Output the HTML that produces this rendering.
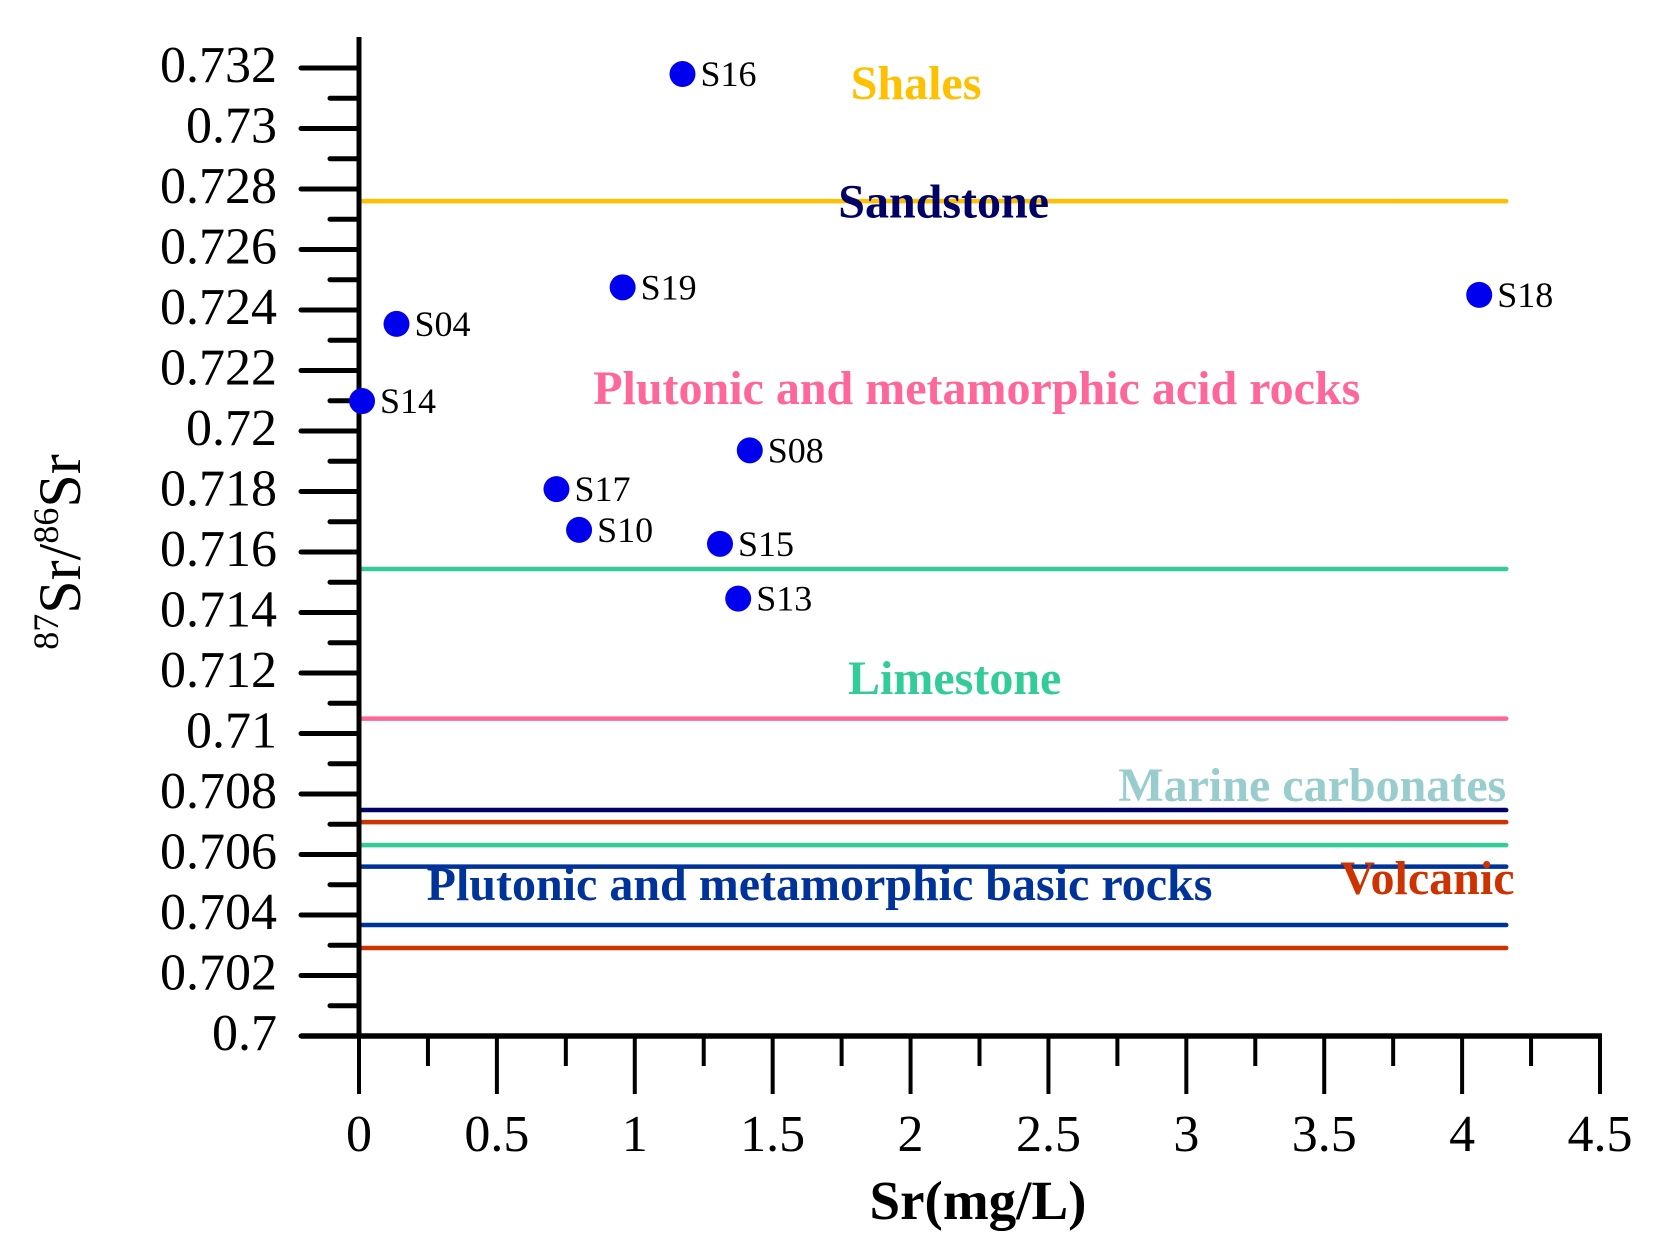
<!DOCTYPE html>
<html><head><meta charset="utf-8"><style>
html,body{margin:0;padding:0;background:#fff;}
svg{display:block;font-family:"Liberation Serif",serif;}
</style></head><body>
<svg id="chart" width="1673" height="1255" viewBox="0 0 1673 1255" xmlns="http://www.w3.org/2000/svg">
<g id="lines"></g>
<g id="axes"></g>
<g id="labels"></g>
<g id="points"></g>
<text x="978" y="1219" text-anchor="middle" font-size="55" font-weight="bold">Sr(mg/L)</text>
<text transform="translate(80,552) rotate(-90)" text-anchor="middle" font-size="60"><tspan font-size="36" dy="-22">87</tspan><tspan dy="22">Sr/</tspan><tspan font-size="36" dy="-22">86</tspan><tspan dy="22">Sr</tspan></text>
</svg>
<script>
const sampleNames = ["S16","S19","S04","S14","S17","S10","S08","S15","S13","S18"];
const sampleSr = [1.173,0.956,0.136,0.011,0.716,0.798,1.417,1.309,1.375,4.062];
const sampleRatio = [0.7318,0.72475,0.72354,0.72099,0.71808,0.71673,0.71936,0.71627,0.71446,0.7245];
const lineValues = [0.7276,0.71544,0.71049,0.70747,0.70707,0.70631,0.7056,0.70367,0.70291];
const lineColors = ["#FFC000","#33CC99","#FF6699","#000066","#CC3300","#33CC99","#003399","#003399","#CC3300"];
const lineNames = ["shales-sandstone-boundary","limestone-upper","acid-rocks-lower","sandstone-lower","volcanic-upper","limestone-lower","basic-rocks-upper","basic-rocks-lower","volcanic-lower"];
const lineEnd = 4.16;
const regionNames = ["Shales","Sandstone","Plutonic and metamorphic acid rocks","Limestone","Marine carbonates","Volcanic","Plutonic and metamorphic basic rocks"];
const regionX = [2.02,2.12,2.24,2.16,4.16,4.19,1.67];
const regionY = [0.73097,0.72705,0.7209,0.7113,0.70777,0.7047,0.7045];
const regionColors = ["#FFC000","#000066","#FF6699","#33CC99","#99CCCC","#CC3300","#003399"];
const regionAnchor = ["middle","middle","middle","middle","end","end","middle"];
const yTicks = [0.7,0.702,0.704,0.706,0.708,0.71,0.712,0.714,0.716,0.718,0.72,0.722,0.724,0.726,0.728,0.73,0.732];
const yTickLabels = ["0.7","0.702","0.704","0.706","0.708","0.71","0.712","0.714","0.716","0.718","0.72","0.722","0.724","0.726","0.728","0.73","0.732"];
const xTicks = [0,0.5,1,1.5,2,2.5,3,3.5,4,4.5];
const xTickLabels = ["0","0.5","1","1.5","2","2.5","3","3.5","4","4.5"];

const NS="http://www.w3.org/2000/svg";
const X0=359, XS=(1600-359)/4.5, Y0=1036, YS=60.5/0.002;
function xs(v){return X0+v*XS;}
function ys(v){return Y0-(v-0.7)*YS;}
function mk(tag,parent,attrs){const e=document.createElementNS(NS,tag);for(const k in attrs)e.setAttribute(k,attrs[k]);parent.appendChild(e);return e;}

const gl=document.getElementById('lines');
lineValues.forEach((v,i)=>{
  const l=mk('line',gl,{x1:xs(0)+3,x2:xs(lineEnd),y1:ys(v),y2:ys(v),stroke:lineColors[i],'stroke-width':4.5,'stroke-linecap':'round'});
  
  
});

const ga=document.getElementById('axes');
let a=mk('line',ga,{x1:X0,x2:X0,y1:37,y2:Y0+2,stroke:'#000','stroke-width':5});


a=mk('line',ga,{x1:301,x2:1602,y1:Y0,y2:Y0,stroke:'#000','stroke-width':5.5});


yTicks.forEach((v,i)=>{
  const t=mk('line',ga,{x1:301,x2:X0,y1:ys(v),y2:ys(v),stroke:'#000','stroke-width':5,'stroke-linecap':'round'});
  
  
  if(i<yTicks.length-1){
    const m=mk('line',ga,{x1:330,x2:X0,y1:ys(v+0.001),y2:ys(v+0.001),stroke:'#000','stroke-width':5,'stroke-linecap':'round'});
    
    
  }
  const tx=mk('text',ga,{x:277,y:ys(v)+14,'text-anchor':'end','font-size':52});
  tx.textContent=yTickLabels[i];
  
  
});
xTicks.forEach((v,i)=>{
  const t=mk('line',ga,{x1:xs(v),x2:xs(v),y1:Y0,y2:1094,stroke:'#000','stroke-width':4});
  
  
  if(i<xTicks.length-1){
    const m=mk('line',ga,{x1:xs(v+0.25),x2:xs(v+0.25),y1:Y0,y2:1066,stroke:'#000','stroke-width':4});
    
    
  }
  const tx=mk('text',ga,{x:xs(v),y:1151,'text-anchor':'middle','font-size':52});
  tx.textContent=xTickLabels[i];
  
  
});

const gr=document.getElementById('labels');
regionNames.forEach((n,i)=>{
  const t=mk('text',gr,{x:xs(regionX[i]),y:ys(regionY[i]),'text-anchor':regionAnchor[i],'font-size':48,'font-weight':'bold',fill:regionColors[i]});
  t.textContent=n;
  
  
});

const gp=document.getElementById('points');
sampleNames.forEach((n,i)=>{
  const c=mk('circle',gp,{cx:xs(sampleSr[i]),cy:ys(sampleRatio[i]),r:13,fill:'#0000EE'});
  
  
  const t=mk('text',gp,{x:xs(sampleSr[i])+18,y:ys(sampleRatio[i])+12,'font-size':36});
  t.textContent=n;
  
  
});
</script>
</body></html>
